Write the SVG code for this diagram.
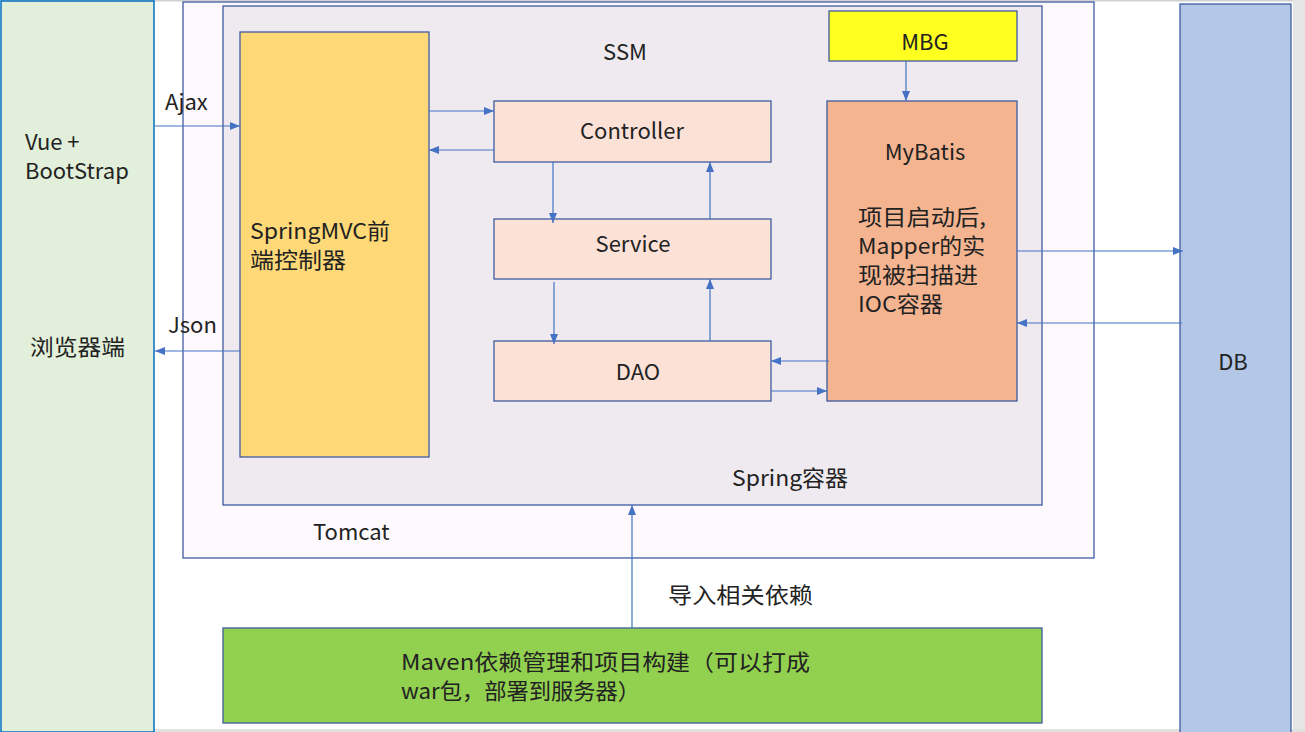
<svg xmlns="http://www.w3.org/2000/svg" width="1305" height="732" viewBox="0 0 1305 732">
<style>
.box{stroke:#3f5b9f;stroke-width:1.3}
.t{font-family:"Noto Sans CJK SC","Noto Sans",sans-serif;font-size:22px;fill:#222222}
.c{text-anchor:middle}
.conn line{stroke:#4472c4;stroke-width:1.2;marker-end:url(#ah)}
</style>
<defs>
<marker id="ah" markerUnits="userSpaceOnUse" markerWidth="10" markerHeight="8" viewBox="0 0 10 8" refX="10" refY="4" orient="auto">
<path d="M0,0 L10,4 L0,8 z" fill="#4472c4"/>
</marker>
</defs>
<rect x="0" y="0" width="1305" height="732" fill="#ffffff"/>
<rect x="0" y="0" width="1305" height="1.5" fill="#d0d0d0"/>
<rect x="1293" y="0" width="12" height="732" fill="#e6e6e6"/>
<rect x="0" y="729" width="1305" height="3" fill="#e0e0e0"/>

<g id="browser">
<rect x="1" y="1" width="153" height="731" fill="#e2efda" stroke="#0070c0" stroke-width="1.5"/>
<text class="t" x="25" y="150">Vue +</text>
<text class="t" x="25" y="179">BootStrap</text>
<text class="t" x="30" y="355" textLength="95" lengthAdjust="spacingAndGlyphs">浏览器端</text>
</g>

<g id="tomcat">
<rect x="183" y="2" width="911" height="556" fill="#fdf9fd" class="box"/>
<text class="t" x="313" y="540">Tomcat</text>
</g>

<g id="spring">
<rect x="223" y="6" width="819" height="499" fill="#eeeaf0" class="box"/>
<text class="t c" x="625" y="60">SSM</text>
<text class="t" x="732" y="486" textLength="116" lengthAdjust="spacingAndGlyphs">Spring容器</text>
</g>

<g id="springmvc">
<rect x="240" y="32" width="189" height="425" fill="#ffd978" class="box"/>
<text class="t" x="250" y="239" textLength="140" lengthAdjust="spacingAndGlyphs">SpringMVC前</text>
<text class="t" x="250" y="268" textLength="96" lengthAdjust="spacingAndGlyphs">端控制器</text>
</g>

<g id="controller">
<rect x="494" y="101" width="277" height="61" fill="#fce1d7" class="box"/>
<text class="t c" x="632" y="139">Controller</text>
</g>

<g id="service">
<rect x="494" y="219" width="277" height="60" fill="#fce1d7" class="box"/>
<text class="t c" x="633" y="252">Service</text>
</g>

<g id="dao">
<rect x="494" y="341" width="277" height="60" fill="#fce1d7" class="box"/>
<text class="t c" x="638" y="380">DAO</text>
</g>

<g id="mbg">
<rect x="829" y="11" width="188" height="50" fill="#ffff20" class="box"/>
<text class="t c" x="925" y="50">MBG</text>
</g>

<g id="mybatis">
<rect x="827" y="101" width="190" height="300" fill="#f4b490" class="box"/>
<text class="t c" x="925" y="160">MyBatis</text>
<text class="t" x="858" y="225" textLength="128" lengthAdjust="spacingAndGlyphs">项目启动后,</text>
<text class="t" x="858" y="254" textLength="127" lengthAdjust="spacingAndGlyphs">Mapper的实</text>
<text class="t" x="858" y="283" textLength="120" lengthAdjust="spacingAndGlyphs">现被扫描进</text>
<text class="t" x="858" y="312" textLength="85" lengthAdjust="spacingAndGlyphs">IOC容器</text>
</g>

<g id="db">
<rect x="1180" y="4" width="111" height="730" fill="#b4c7e7" class="box"/>
<text class="t c" x="1233" y="370">DB</text>
</g>

<g id="maven">
<rect x="223" y="628" width="819" height="95" fill="#92d050" class="box"/>
<text class="t" x="401" y="670" textLength="409" lengthAdjust="spacingAndGlyphs">Maven依赖管理和项目构建（可以打成</text>
<text class="t" x="401" y="699" textLength="239" lengthAdjust="spacingAndGlyphs">war包，部署到服务器）</text>
</g>

<g id="labels">
<text class="t" x="165" y="110">Ajax</text>
<text class="t" x="168" y="333">Json</text>
<text class="t" x="668" y="603" textLength="145" lengthAdjust="spacingAndGlyphs">导入相关依赖</text>
</g>

<g class="conn" id="connectors">
<line x1="155" y1="126" x2="240" y2="126"/>
<line x1="240" y1="351" x2="155" y2="351"/>
<line x1="429" y1="111" x2="494" y2="111"/>
<line x1="494" y1="150" x2="429" y2="150"/>
<line x1="553" y1="162" x2="553" y2="223"/>
<line x1="710" y1="219" x2="710" y2="162"/>
<line x1="554" y1="282" x2="554" y2="344"/>
<line x1="710" y1="341" x2="710" y2="279"/>
<line x1="829" y1="361" x2="771" y2="361"/>
<line x1="771" y1="391" x2="827" y2="391"/>
<line x1="906" y1="61" x2="906" y2="101"/>
<line x1="1017" y1="251" x2="1183" y2="251"/>
<line x1="1182" y1="323" x2="1017" y2="323"/>
<line x1="632" y1="628" x2="632" y2="505"/>
</g>
</svg>
